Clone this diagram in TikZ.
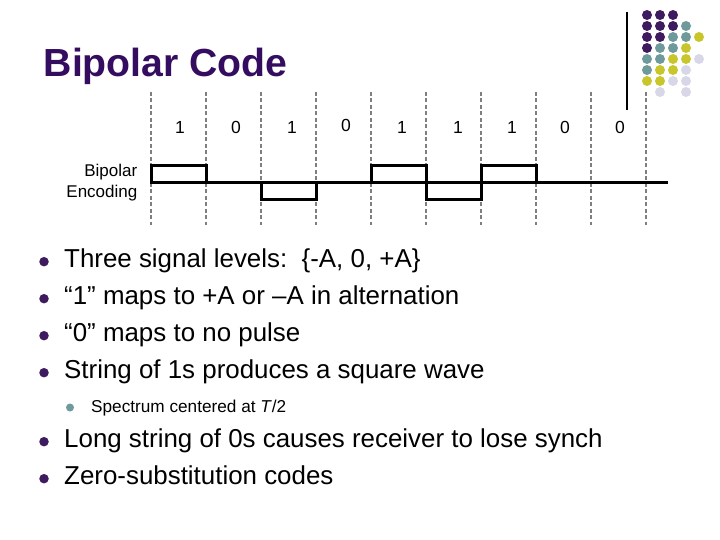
\documentclass[tikz,border=0pt]{standalone}
\usepackage{fontspec}
\setmainfont{Liberation Sans}
\definecolor{ttl}{HTML}{340C60}
\definecolor{dP}{HTML}{3E1B5F}
\definecolor{dT}{HTML}{6F9A9B}
\definecolor{dY}{HTML}{C8C62A}
\definecolor{dL}{HTML}{D7D7E7}
\definecolor{dash}{HTML}{7F7F7F}
\begin{document}
\begin{tikzpicture}[x=1pt,y=-1pt,
  body/.style={anchor=base west, inner sep=0pt, font=\fontsize{25.9}{30}\selectfont},
  subbody/.style={anchor=base west, inner sep=0pt, font=\fontsize{17.2}{20}\selectfont},
  digit/.style={anchor=base, inner sep=0pt, font=\fontsize{17.5}{20}\selectfont},
  dashline/.style={draw=dash, line width=1.8pt, dash pattern=on 4pt off 2.5pt},
  wave/.style={draw=black, line width=3pt, line join=miter},
  mainbul/.style={circle, fill=dP, inner sep=0pt, minimum size=9.5pt},
  subbul/.style={circle, fill=dT, inner sep=0pt, minimum size=8pt},
  dot/.style={circle, inner sep=0pt, minimum size=10pt}]
\useasboundingbox (0,0) rectangle (720,540);

% decoration: vertical line and dot grid
\draw[line width=1.3pt] (627,12) coordinate (vt) -- (627,110) coordinate (vb);
\foreach \c/\r/\col in {0/0/dP,1/0/dP,2/0/dP,
  0/1/dP,1/1/dP,2/1/dP,3/1/dT,
  0/2/dP,1/2/dP,2/2/dT,3/2/dT,4/2/dY,
  0/3/dP,1/3/dT,2/3/dT,3/3/dY,
  0/4/dT,1/4/dT,2/4/dY,3/4/dY,4/4/dL,
  0/5/dT,1/5/dY,2/5/dY,3/5/dL,
  0/6/dY,1/6/dY,2/6/dL,3/6/dL,
  1/7/dL,3/7/dL}
  \node[dot, fill=\col] (d\c\r) at (647+13*\c,15+11*\r) {};

% title
\node[anchor=base west, inner sep=0pt, text=ttl,
      font=\bfseries\fontsize{39.2}{42}\selectfont] (title) at (43.5,76.7) {Bipolar Code};

% dashed bit boundaries
\foreach \i in {0,...,9}
  \draw[dashline] (151+55*\i,92) -- (151+55*\i,225);

% bit labels
\foreach \x/\d/\yb [count=\k] in {180/1/133.3,236/0/133.3,292/1/133.3,346/0/131.3,402/1/133.3,458/1/133.3,512/1/133.3,565/0/133.3,620/0/133.3}
  \node[digit] (bit\k) at (\x,\yb) {\d};

% encoding label
\node[anchor=base east, inner sep=0pt, font=\fontsize{17}{20}\selectfont] (lab1) at (137.5,176.7) {Bipolar};
\node[anchor=base east, inner sep=0pt, font=\fontsize{17}{20}\selectfont] (lab2) at (137.5,198) {Encoding};

% waveform
\draw[wave] (151,183) -- (668,183);
\draw[wave] (151,165.7) rectangle (206,183);
\draw[wave] (261,183) rectangle (316,200);
\draw[wave] (371,165.7) rectangle (426,183);
\draw[wave] (426,183) rectangle (481,200);
\draw[wave] (481,165.7) rectangle (536,183);

% bullets
\node[mainbul] (b1) at (44,261.7) {};
\node[body] (t1) at (64,267) {Three signal levels:\ \ \{-A, 0, +A\}};
\node[mainbul] (b2) at (44,298.7) {};
\node[body] (t2) at (64,304) {“1” maps to +A or –A in alternation};
\node[mainbul] (b3) at (44,335.7) {};
\node[body] (t3) at (64,341) {“0” maps to no pulse};
\node[mainbul] (b4) at (44,372.7) {};
\node[body] (t4) at (64,378) {String of 1s produces a square wave};
\node[subbul] (b5) at (70,407.5) {};
\node[subbody] (t5) at (91,412.3) {Spectrum centered at \textit{T}/2};
\node[mainbul] (b6) at (44,441.7) {};
\node[body] (t6) at (64,447.3) {Long string of 0s causes receiver to lose synch};
\node[mainbul] (b7) at (44,478.7) {};
\node[body] (t7) at (64,484) {Zero-substitution codes};
\end{tikzpicture}
\end{document}
